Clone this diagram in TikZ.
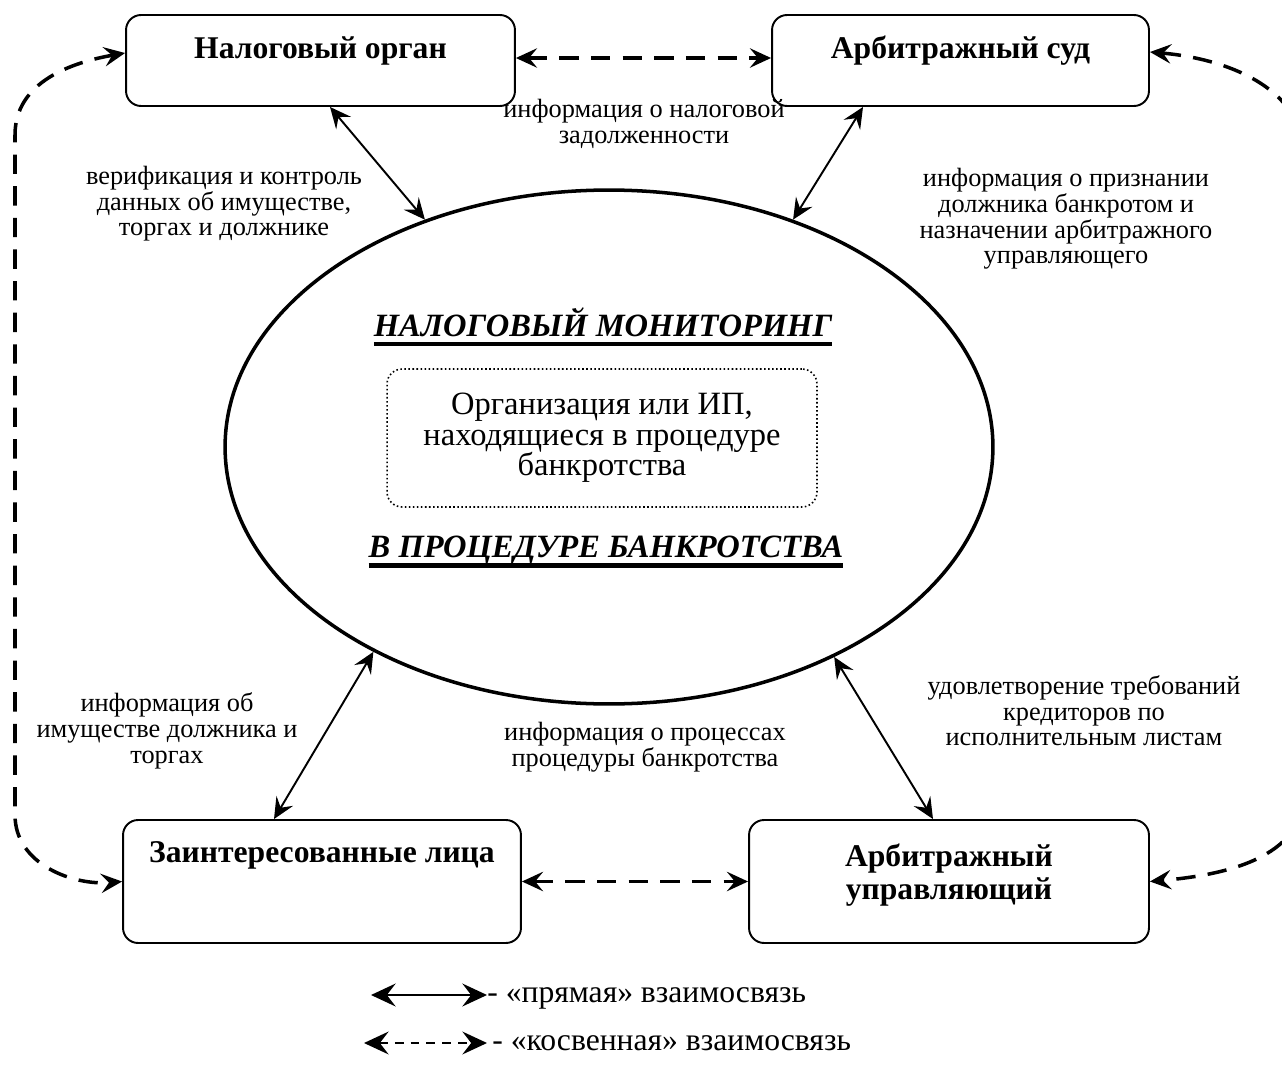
\documentclass[tikz,border=0pt]{standalone}
\usepackage{fontspec}
\setmainfont{Liberation Serif}
\usetikzlibrary{arrows.meta, shapes.geometric}
\newcommand{\lblfont}{\fontsize{15}{14.6}\selectfont}
\newcommand{\ttlfont}{\fontsize{18}{18.7}\selectfont\bfseries}
\newcommand{\firmfont}{\fontsize{18.5}{17.3}\selectfont}
\newcommand{\monfont}{\fontsize{18.5}{20}\selectfont\bfseries\itshape}
\newcommand{\legfont}{\fontsize{18}{20}\selectfont}
\newcommand{\thickul}[1]{\setbox0\hbox{#1}\rlap{\rule[-5.5pt]{\wd0}{2.4pt}}\box0}
\tikzset{
  orgbox/.style={rectangle, draw, rounded corners=0.3cm, line width=1.1pt, align=center, font=\ttlfont, inner sep=0pt, text height=13pt},
  firmbox/.style={rectangle, draw, rounded corners=0.3cm, line width=0.9pt, dash pattern=on 0.9pt off 1.4pt, align=center, font=\firmfont, minimum width=8.6cm, minimum height=2.76cm},
  monell/.style={ellipse, draw, line width=2pt, minimum width=15.36cm, minimum height=10.28cm, inner sep=0pt},
  montxt/.style={font=\monfont, inner sep=0pt},
  lbl/.style={align=center, font=\lblfont, inner sep=0pt},
  direct/.style={<->, line width=1.1pt},
  indirect/.style={<->, line width=2pt, dash pattern=on 11pt off 7pt},
  legtxt/.style={font=\legfont, anchor=west, inner sep=0pt, text height=12pt, text depth=3pt},
  legarrow/.style={{Stealth[length=14pt, width=13pt, inset=5pt]}-{Stealth[length=14pt, width=13pt, inset=5pt]}},
}

\begin{document}
\begin{tikzpicture}[>={Stealth[length=12pt, width=11pt, inset=4.5pt]}, x=0.02cm, y=-0.02cm]
  \useasboundingbox (0,0) rectangle (1282,1075);
  % ── participants (rounded boxes) ─────────────────────────────────
  \node[orgbox, minimum width=7.78cm, minimum height=1.82cm, text depth=15pt] (Nalog) at (320.5,60.5) {Налоговый орган};
  \node[orgbox, minimum width=7.54cm, minimum height=1.82cm, text depth=15pt] (Sud) at (960.5,60.5) {Арбитражный суд};
  \node[orgbox, minimum width=7.96cm, minimum height=2.46cm, text depth=35pt] (Lica) at (322,881.5) {Заинтересованные лица};
  \node[orgbox, minimum width=8.0cm, minimum height=2.46cm, text height=34pt, text depth=13.2pt] (Uprav) at (949,881.5) {Арбитражный\\управляющий};
  % ── monitoring ellipse with the debtor inside ────────────────────
  \node[monell] (Mon) at (609,447) {};
  \node[montxt] (MonT) at (603,327) {\thickul{НАЛОГОВЫЙ МОНИТОРИНГ}};
  \node[firmbox] (Firm) at (602,438) {Организация или ИП,\\находящиеся в процедуре\\банкротства};
  \node[montxt] (MonB) at (606,552) {\thickul{В ПРОЦЕДУРЕ БАНКРОТСТВА}};
  % ── edge labels ──────────────────────────────────────────────────
  \node[lbl] (Lver) at (224,204) {верификация и контроль\\данных об имуществе,\\торгах и должнике};
  \node[lbl] (Ldolg) at (644,124) {информация о налоговой\\задолженности};
  \node[lbl] (Lpriz) at (1066,219) {информация о признании\\должника банкротом и\\назначении арбитражного\\управляющего};
  \node[lbl] (Limu) at (167,731) {информация об\\имуществе должника и\\торгах};
  \node[lbl] (Lproc) at (645,747) {информация о процессах\\процедуры банкротства};
  \node[lbl] (Ltreb) at (1084,711) {удовлетворение требований\\кредиторов по\\исполнительным листам};
  % ── direct links ─────────────────────────────────────────────────
  \draw[direct] ([xshift=0.19cm]Nalog.south) -- (Mon.129);
  \draw[direct] ([xshift=-1.95cm]Sud.south) -- (Mon.51);
  \draw[direct] (Mon.221) -- ([xshift=-0.96cm]Lica.north);
  \draw[direct] (Mon.317) -- ([xshift=-0.32cm]Uprav.north);
  % ── indirect links (dashed) ──────────────────────────────────────
  \draw[indirect] ([yshift=0.05cm]Nalog.east) -- ([yshift=0.05cm]Sud.west);
  \draw[indirect] (Lica.east) -- (Uprav.west);
  \coordinate (Ltop) at (15,135);
  \coordinate (Lbot) at (15,815);
  \draw[indirect] ([yshift=0.15cm]Nalog.west) to[out=190, in=90] (Ltop) -- (Lbot) to[out=-90, in=185] (Lica.west);
  \coordinate (Rtop) at (1305,160);
  \coordinate (Rbot) at (1305,790);
  \draw[indirect] ([yshift=0.17cm]Sud.east) to[out=-5, in=90] (Rtop) -- (Rbot) to[out=-90, in=5] (Uprav.east);
  % ── legend ───────────────────────────────────────────────────────
  \coordinate (LegA1) at (371,995);
  \node[legtxt] (LegT1) at (487,995) {- «прямая» взаимосвязь};
  \draw[legarrow, line width=1.5pt] (LegA1) -- (LegT1.west);
  \coordinate (LegA2) at (364,1043);
  \node[legtxt] (LegT2) at (492,1043) {- «косвенная» взаимосвязь};
  \draw[legarrow, line width=1.2pt, dash pattern=on 5pt off 4pt] (LegA2) -- ([xshift=-0.1cm]LegT2.west);
\end{tikzpicture}
\end{document}
